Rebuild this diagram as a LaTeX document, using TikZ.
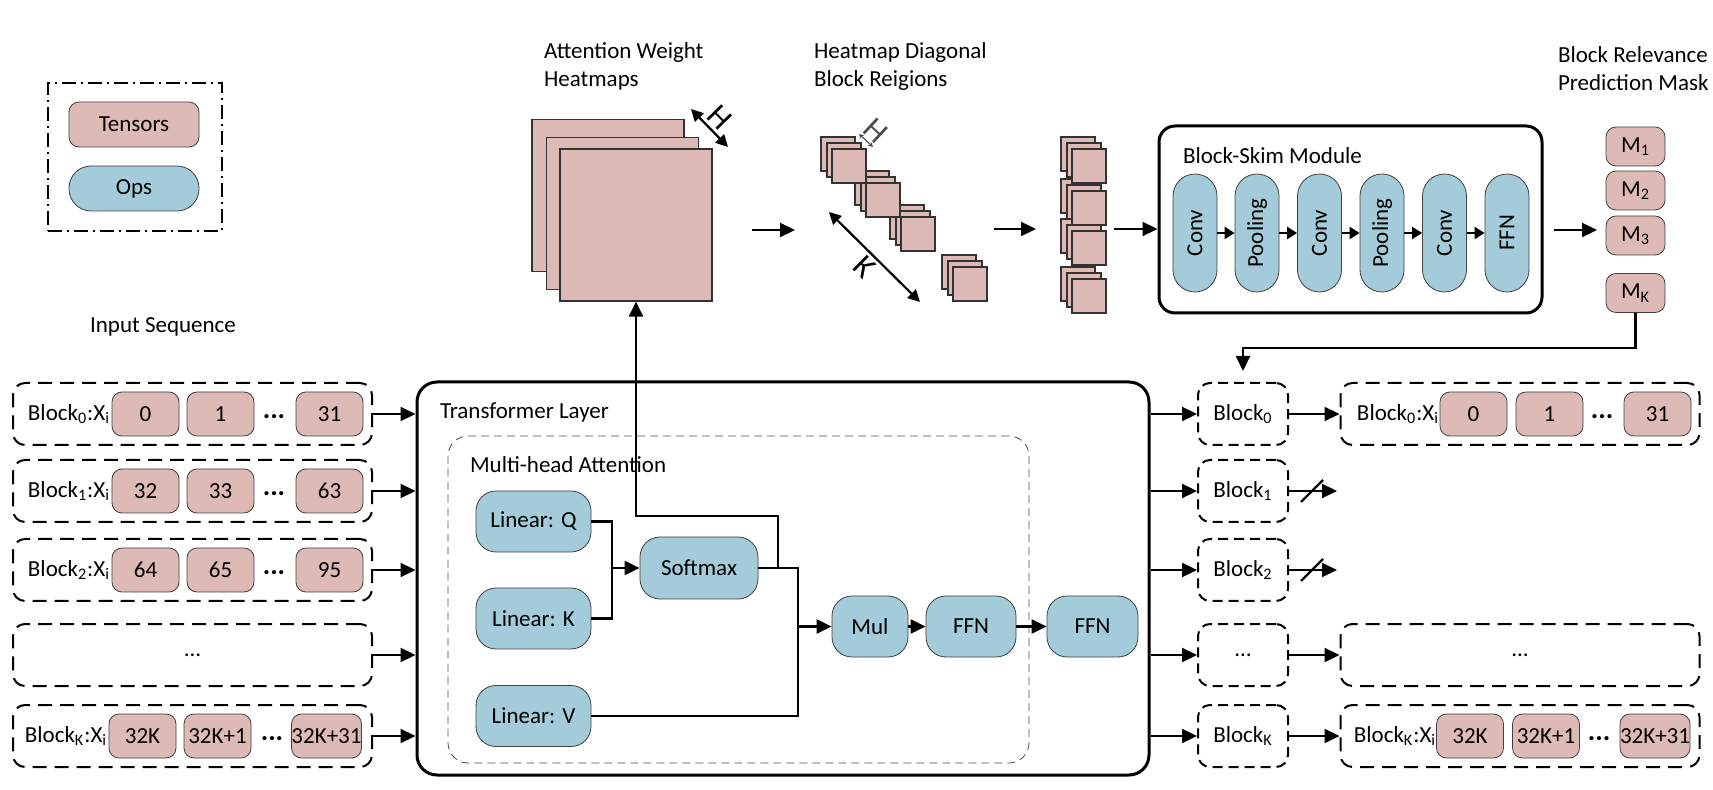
\documentclass[tikz,border=0pt]{standalone}
\usepackage{fontspec}
\setmainfont{Carlito}
\usetikzlibrary{arrows.meta,positioning}
\definecolor{tensorpink}{RGB}{222,186,183}
\definecolor{opblue}{RGB}{163,203,217}

\begin{document}
\begin{tikzpicture}[
    x=0.5pt,y=-0.5pt,
    font=\fontsize{11.5}{14}\selectfont,
    >={Triangle[length=7.5pt,width=7pt]},
    tensor/.style={draw=black!75,fill=tensorpink,rounded corners=5pt,minimum width=33.5pt,minimum height=22pt,inner sep=1pt},
    op/.style={draw=black!75,fill=opblue,rounded corners=10pt,minimum height=30.5pt,inner sep=1pt},
    skim/.style={draw=black!75,fill=opblue,rounded corners=11pt,rotate=90,minimum width=59pt,minimum height=22pt,inner sep=1pt},
    seq/.style={draw,line width=1pt,dash pattern=on 7pt off 4pt,rounded corners=6pt,minimum width=179.5pt,minimum height=31pt},
    blk/.style={draw,line width=1pt,dash pattern=on 5pt off 3pt,rounded corners=6pt,minimum width=45pt,minimum height=31pt},
    tile/.style={draw=black!80,fill=tensorpink,line width=0.6pt},
    dimlabel/.style={font=\fontsize{16}{16}\selectfont,inner sep=1.5pt},
    gap/.style={font=\fontsize{14}{14}\selectfont\bfseries},
    flow/.style={->,line width=1.1pt},
    wire/.style={line width=1.1pt}]
  \useasboundingbox (0,0) rectangle (1713,790);

  % legend
  \node[draw,line width=1pt,dash pattern=on 7pt off 2.5pt on 1pt off 2.5pt,minimum width=87pt,minimum height=74pt] (legend) at (135,157) {};
  \node[tensor,minimum width=65pt,minimum height=22.5pt] (tensors) at (134,124.5) {Tensors};
  \node[op,rounded corners=11pt,minimum width=65pt,minimum height=22.5pt] (ops) at (134,188.5) {Ops};
  \node (inseq) at (163,327) {Input Sequence};

  % captions
  \node[anchor=west,align=left] (capheat) at (537,66) {Attention Weight\\Heatmaps};
  \node[anchor=west,align=left] (capdiag) at (807,66) {Heatmap Diagonal\\Block Reigions};
  \node[anchor=west,align=left] (capmask) at (1551,69) {Block Relevance\\Prediction Mask};

  % heatmaps
  \node[tile,minimum size=76pt,inner sep=0pt] (hmback) at (608,195.5) {};
  \node[tile,minimum size=76pt,inner sep=0pt] (hmmid) at (622.5,213.5) {};
  \node[tile,minimum size=76pt,inner sep=0pt] (hmfront) at (636,225) {};
  \draw[<->,line width=1.1pt,>={Triangle[length=6pt,width=6pt]}] (691,109) -- node[sloped,above,dimlabel]{H} (728,147);

  % diagonal blocks
  \foreach \px/\py in {953/267,901/217,866/183,832/149}{
    \draw[tile] (\px-11,\py-12) rectangle ++(34,34);
    \draw[tile] (\px-5,\py-6) rectangle ++(34,34);
    \draw[tile] (\px,\py) rectangle ++(34,34);
  }
  \draw[<->,black!70,line width=0.5pt,>={Stealth[length=2.5pt,width=2.5pt]}] (859,134) -- node[sloped,above,dimlabel]{H} (873,147);
  \draw[<->,line width=1.1pt,>={Triangle[length=6pt,width=6pt]}] (829,212) -- node[sloped,below,dimlabel]{K} (920,302);

  % stacked blocks
  \foreach \py in {279,231,191,149}{
    \draw[tile] (1061,\py-12) rectangle ++(34,34);
    \draw[tile] (1067,\py-6) rectangle ++(34,34);
    \draw[tile] (1072,\py) rectangle ++(34,34);
  }

  \coordinate (heatout) at (752,230);
  \coordinate (diagin) at (795,230);
  \coordinate (diagout) at (994,229);
  \coordinate (stackin) at (1036,229);
  \coordinate (stackout) at (1114,229);
  \draw[flow] (heatout) -- (diagin);
  \draw[flow] (diagout) -- (stackin);

  % block-skim module
  \node[draw,line width=1.5pt,rounded corners=8pt,minimum width=191.5pt,minimum height=93.5pt] (skimbox) at (1350.5,219.5) {};
  \node[anchor=west] (skimtitle) at (1176,156) {Block-Skim Module};
  \node[skim] (conva) at (1195,233) {Conv};
  \node[skim] (poola) at (1257,233) {Pooling};
  \node[skim] (convb) at (1319.5,233) {Conv};
  \node[skim] (poolb) at (1382,233) {Pooling};
  \node[skim] (convc) at (1444.5,233) {Conv};
  \node[skim] (skimffn) at (1507,233) {FFN};
  \foreach \a/\b in {conva/poola,poola/convb,convb/poolb,poolb/convc,convc/skimffn}
    \draw[flow,>={Triangle[length=5pt,width=6pt]}] (\a.south) -- (\b.north);
  \draw[flow] (stackout) -- (stackout -| skimbox.west);

  % mask
  \node[tensor,minimum width=29.5pt,minimum height=19.5pt] (m1) at (1635.5,146.5) {M\textsubscript{1}};
  \node[tensor,minimum width=29.5pt,minimum height=19.5pt] (m2) at (1635.5,190.5) {M\textsubscript{2}};
  \node[tensor,minimum width=29.5pt,minimum height=19.5pt] (m3) at (1635.5,235.5) {M\textsubscript{3}};
  \node[tensor,minimum width=29.5pt,minimum height=19.5pt] (mk) at (1635.5,293) {M\textsubscript{K}};
  \coordinate (skimout) at (1554,230);
  \coordinate (maskin) at (1597,230);
  \draw[flow] (skimout) -- (maskin);

  % input sequence
  \foreach \r/\y/\a/\b/\c in {0/414/0/1/31,1/491/32/33/63,2/570/64/65/95}{
    \node[seq] (in\r) at (192.5,\y) {};
    \node (in\r lab) at (69,\y) {Block\textsubscript{\r}:X\textsubscript{i}};
    \node[tensor] (in\r a) at (145.5,\y) {\a};
    \node[tensor] (in\r b) at (220.5,\y) {\b};
    \node[gap] (in\r dots) at (274,\y+3) {...};
    \node[tensor] (in\r c) at (329.5,\y) {\c};
  }
  \node[seq] (in3) at (192.5,655) {};
  \node (in3dots) at (192.5,655) {\dots};
  \node[seq] (in4) at (192.5,736) {};
  \node (in4lab) at (66,736) {Block\textsubscript{K}:X\textsubscript{i}};
  \node[tensor,inner sep=0pt] (in4a) at (142.5,736) {32K};
  \node[tensor,inner sep=0pt] (in4b) at (217.5,736) {32K+1};
  \node[gap] (in4dots) at (272,739) {...};
  \node[tensor,inner sep=0pt] (in4c) at (326.5,736) {32K+31};

  % transformer layer
  \node[draw,line width=1.5pt,rounded corners=10pt,minimum width=366pt,minimum height=196.5pt] (tl) at (783,578.5) {};
  \node[anchor=west] (tltitle) at (433,412) {Transformer Layer};
  \node[draw=black!70,dash pattern=on 4pt off 2.5pt,rounded corners=10pt,minimum width=290.5pt,minimum height=163.5pt] (mha) at (738.5,599.5) {};
  \node[anchor=west] (mhatitle) at (463,465) {Multi-head Attention};
  \node[op,minimum width=57.5pt] (linq) at (533.5,521.5) {Linear: Q};
  \node[op,minimum width=57.5pt] (link) at (533.5,618.5) {Linear: K};
  \node[op,minimum width=57.5pt] (linv) at (533.5,716) {Linear: V};
  \node[op,minimum width=59pt,minimum height=31pt] (softmax) at (699,568) {Softmax};
  \node[op,minimum width=38pt] (mul) at (870,626.5) {Mul};
  \node[op,minimum width=45pt] (ffna) at (971,626.5) {FFN};
  \node[op,minimum width=45.5pt] (ffnb) at (1092.5,626.5) {FFN};

  \coordinate (qk) at (612,568);
  \coordinate (sv) at (798,626.5);
  \coordinate (tap) at (778,568);
  \coordinate (bend) at (636,516);
  \draw[wire] (linq.east) -| (qk) |- (link.east);
  \draw[flow] (qk) -- (softmax.west);
  \draw[wire] (softmax.east) -| (sv) |- (linv.east);
  \draw[flow] (sv) -- (mul.west);
  \draw[flow] (mul) -- (ffna);
  \draw[flow] (ffna) -- (ffnb);
  \draw[flow] (tap) |- (bend) -- (hmfront.south);

  \foreach \r in {0,...,4}
    \draw[flow] (in\r.east) -- (in\r.east -| tl.west);

  % skimmed blocks
  \node[blk] (blk0) at (1243,414) {Block\textsubscript{0}};
  \node[blk] (blk1) at (1243,491) {Block\textsubscript{1}};
  \node[blk] (blk2) at (1243,570) {Block\textsubscript{2}};
  \node[blk] (blk3) at (1243,655) {\dots};
  \node[blk] (blk4) at (1243,736) {Block\textsubscript{K}};
  \foreach \r in {0,...,4}
    \draw[flow] (tl.east |- blk\r.west) -- (blk\r.west);

  \coordinate (ret) at (1243,348);
  \draw[flow,shorten >=5.5pt] (mk.south) |- (ret) -- (blk0.north);

  % output sequence
  \node[seq] (out0) at (1520,414) {};
  \node (out0lab) at (1398,414) {Block\textsubscript{0}:X\textsubscript{i}};
  \node[tensor] (out0a) at (1473.5,414) {0};
  \node[tensor] (out0b) at (1549.5,414) {1};
  \node[gap] (out0dots) at (1602,417) {...};
  \node[tensor] (out0c) at (1657.5,414) {31};
  \node[seq] (out3) at (1520,655) {};
  \node (out3dots) at (1520,655) {\dots};
  \node[seq] (out4) at (1520,736) {};
  \node (out4lab) at (1395,736) {Block\textsubscript{K}:X\textsubscript{i}};
  \node[tensor,inner sep=0pt] (out4a) at (1470,736) {32K};
  \node[tensor,inner sep=0pt] (out4b) at (1546,736) {32K+1};
  \node[gap] (out4dots) at (1599,739) {...};
  \node[tensor,inner sep=0pt] (out4c) at (1655,736) {32K+31};

  \foreach \r in {0,3,4}
    \draw[flow] (blk\r.east) -- (out\r.west);
  \coordinate (cut1) at (1337,491);
  \coordinate (cut2) at (1337,570);
  \draw[flow] (blk1.east) -- (cut1);
  \draw[flow] (blk2.east) -- (cut2);
  \draw[wire] (cut1) ++(-36,11) -- ++(22,-22);
  \draw[wire] (cut2) ++(-36,11) -- ++(22,-22);
\end{tikzpicture}
\end{document}
